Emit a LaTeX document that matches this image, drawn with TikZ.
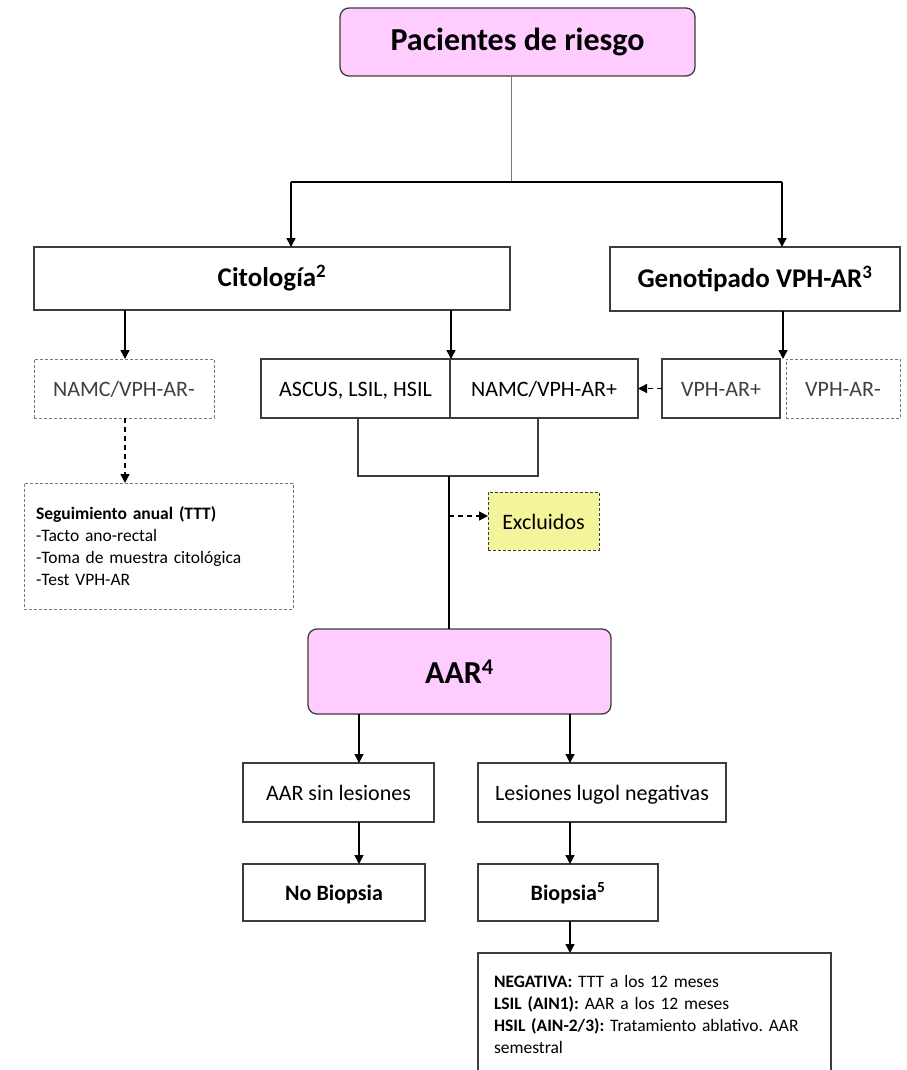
\documentclass[tikz,border=0pt]{standalone}
\usepackage{fontspec}
\setmainfont{Carlito}
\usetikzlibrary{arrows.meta}
\frenchspacing
\definecolor{pinkfill}{RGB}{255,204,255}
\definecolor{yelfill}{RGB}{244,244,154}
\definecolor{boxline}{RGB}{60,60,60}
\definecolor{dashline}{RGB}{120,120,120}
\definecolor{txtgray}{RGB}{64,64,64}
\tikzset{
  box/.style={draw=boxline, line width=1.3pt, inner sep=0pt, outer sep=0pt, align=center, text=black},
  dbox/.style={draw=dashline, line width=0.9pt, dash pattern=on 3pt off 2pt, inner sep=0pt, outer sep=0pt, align=center},
  rbox/.style={box, fill=pinkfill, rounded corners=9pt},
  arr/.style={line width=1.4pt, -{Triangle[length=9pt,width=9pt]}},
  darr/.style={line width=1.4pt, dash pattern=on 5pt off 4pt, -{Triangle[length=9pt,width=9pt]}},
  conn/.style={line width=1.4pt},
  big/.style={font=\fontsize{32}{38}\selectfont\bfseries},
  mid/.style={font=\fontsize{27}{32}\selectfont\bfseries},
  reg/.style={font=\fontsize{22}{26}\selectfont, text height=18pt, text depth=2pt},
  regb/.style={font=\fontsize{22}{26}\selectfont\bfseries, text height=17pt, text depth=2pt},
  small/.style={font=\fontsize{17.5}{22}\selectfont},
}
\begin{document}
\begin{tikzpicture}[x=1pt,y=-1pt]
\useasboundingbox (0,0) rectangle (906,1070);
\clip (0,0) rectangle (906,1070);
\fill[white] (0,0) rectangle (906,1070);

% nodes
\node[rbox, big, minimum width=355pt, minimum height=68pt] (pac) at (517.5,42) {Pacientes de riesgo};
\node[box, mid, minimum width=476pt, minimum height=63pt] (cit) at (272,278.5) {Citología\textsuperscript{2}};
\node[box, mid, minimum width=290pt, minimum height=64pt] (gen) at (755,279) {Genotipado VPH-AR\textsuperscript{3}};
\node[dbox, reg, text=txtgray, minimum width=180pt, minimum height=59pt] (namcneg) at (124,388.5) {NAMC/VPH-AR-};
\node[box, reg, minimum width=189pt, minimum height=59pt] (ascus) at (355.5,388.5) {ASCUS, LSIL, HSIL};
\node[box, reg, minimum width=188pt, minimum height=59pt] (namcpos) at (544,388.5) {NAMC/VPH-AR+};
\node[box, reg, text=txtgray, minimum width=118pt, minimum height=59pt] (vphpos) at (721,388.5) {VPH-AR+};
\node[dbox, reg, text=txtgray, minimum width=114pt, minimum height=59pt] (vphneg) at (843,388.5) {VPH-AR-};
\node[box, minimum width=180pt, minimum height=58pt] (merge) at (448,447) {};
\node[dbox, small, align=left, text width=245pt, inner xsep=12pt, minimum width=269pt, minimum height=126pt] (segui) at (158.5,546)
  {\textbf{Seguimiento anual (TTT)}\\-Tacto ano-rectal\\-Toma de muestra citológica\\-Test VPH-AR};
\node[dbox, draw=boxline, fill=yelfill, reg, minimum width=111pt, minimum height=58pt] (excl) at (543.5,521) {Excluidos};
\node[rbox, big, minimum width=303pt, minimum height=85pt] (aar) at (459.5,671.5) {AAR\textsuperscript{4}};
\node[box, reg, minimum width=191pt, minimum height=59pt] (sinles) at (338.5,792.5) {AAR sin lesiones};
\node[box, reg, minimum width=248pt, minimum height=59pt] (lugol) at (602,792.5) {Lesiones lugol negativas};
\node[box, regb, minimum width=182pt, minimum height=57pt] (nobiop) at (334,892.5) {No Biopsia};
\node[box, regb, minimum width=180pt, minimum height=57pt] (biop) at (568,892.5) {Biopsia\textsuperscript{5}};
\node[small, anchor=north west, align=left, text width=321pt, inner xsep=16pt, inner ysep=22pt, outer sep=0pt] (res) at (478,953)
  {\textbf{NEGATIVA:} TTT a los 12 meses\\\textbf{LSIL (AIN1):} AAR a los 12 meses\\\textbf{HSIL (AIN-2/3):} Tratamiento ablativo. AAR\\semestral};
\draw[boxline, line width=1.3pt] (478,1080) -- (res.north west) -- (res.north east) -- (831,1080);

% coordinates
\coordinate (split) at (511,182);
\coordinate (hl) at (291,182);
\coordinate (hr) at (782,182);
\coordinate (c1) at (125,0);
\coordinate (c2) at (451,0);
\coordinate (g1) at (783,0);
\coordinate (m1) at (449,0);
\coordinate (ex) at (449,516);
\coordinate (a1) at (359,0);
\coordinate (a2) at (570,0);

% connectors
\draw[dashline, line width=1pt] (pac.south -| split) -- (split);
\draw[conn] (hl) -- (hr);
\draw[arr] (hl) -- (hl |- cit.north);
\draw[arr] (hr) -- (hr |- gen.north);
\draw[arr] (cit.south -| c1) -- (namcneg.north -| c1);
\draw[arr] (cit.south -| c2) -- (ascus.north -| c2);
\draw[arr] (gen.south -| g1) -- (vphpos.north -| g1);
\draw[darr] (vphpos.west) -- (namcpos.east);
\draw[darr] (namcneg.south -| c1) -- (segui.north -| c1);
\draw[conn] (merge.south -| m1) -- (aar.north -| m1);
\draw[darr] (ex) -- (ex -| excl.west);
\draw[arr] (aar.south -| a1) -- (sinles.north -| a1);
\draw[arr] (aar.south -| a2) -- (lugol.north -| a2);
\draw[arr] (sinles.south -| a1) -- (nobiop.north -| a1);
\draw[arr] (lugol.south -| a2) -- (biop.north -| a2);
\draw[arr] (biop.south -| a2) -- (res.north -| a2);
\end{tikzpicture}
\end{document}
